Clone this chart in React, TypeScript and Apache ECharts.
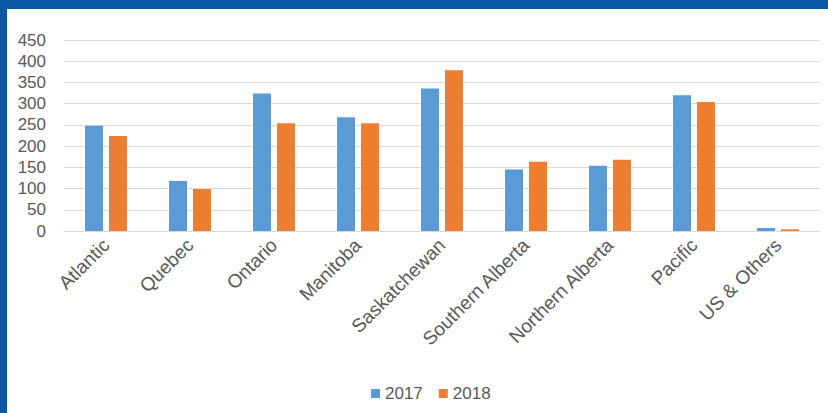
import React, { useEffect, useRef } from "react";
import * as echarts from "echarts";

const categories = [
  "Atlantic",
  "Quebec",
  "Ontario",
  "Manitoba",
  "Saskatchewan",
  "Southern Alberta",
  "Northern Alberta",
  "Pacific",
  "US & Others",
];
const values2017 = [248, 118, 324, 268, 336, 145, 154, 320, 7];
const values2018 = [224, 99, 254, 254, 379, 163, 168, 304, 4];
const seriesNames = ["2017", "2018"];
const yTicks = { min: 0, max: 450, interval: 50 };

export default function App() {
  const ref = useRef<HTMLDivElement>(null);
  useEffect(() => {
    if (!ref.current) return;
    const chart = echarts.init(ref.current, undefined, { renderer: "svg" });
    const font = "Liberation Sans";
    chart.setOption({
      animation: false,
      backgroundColor: "#ffffff",
      textStyle: { fontFamily: font },
      graphic: [
        { type: "rect", left: 0, top: 0, shape: { width: 828, height: 9 }, style: { fill: "#0757A3" }, z: 100 },
        { type: "rect", left: 0, top: 0, shape: { width: 7, height: 413 }, style: { fill: "#0757A3" }, z: 100 },
      ],
      grid: { left: 64, right: 8, top: 40, bottom: 182, containLabel: false },
      legend: {
        data: seriesNames,
        bottom: 6,
        left: 366,
        itemWidth: 9,
        itemHeight: 9,
        itemGap: 16,
        icon: "rect",
        textStyle: { color: "#595959", fontSize: 17, fontFamily: font },
      },
      xAxis: {
        type: "category",
        data: categories,
        axisLine: { lineStyle: { color: "#D9D9D9" } },
        axisTick: { show: false },
        axisLabel: {
          rotate: 45,
          interval: 0,
          color: "#595959",
          fontSize: 19,
          fontFamily: font,
          margin: 11,
        },
      },
      yAxis: {
        type: "value",
        min: yTicks.min,
        max: yTicks.max,
        interval: yTicks.interval,
        axisLine: { show: false },
        axisTick: { show: false },
        splitLine: { lineStyle: { color: "#D9D9D9", width: 1 } },
        axisLabel: { color: "#595959", fontSize: 17, fontFamily: font, margin: 18 },
      },
      series: [
        {
          name: seriesNames[0],
          type: "bar",
          data: values2017,
          barWidth: 18,
          barGap: "33%",
          itemStyle: { color: "#5B9BD5" },
        },
        {
          name: seriesNames[1],
          type: "bar",
          data: values2018,
          barWidth: 18,
          barGap: "33%",
          itemStyle: { color: "#ED7D31" },
        },
      ],
    });
    return () => chart.dispose();
  }, []);
  return (
    <div
      ref={ref}
      style={{ position: "absolute", left: 0, top: 0, width: 828, height: 413 }}
    />
  );
}
